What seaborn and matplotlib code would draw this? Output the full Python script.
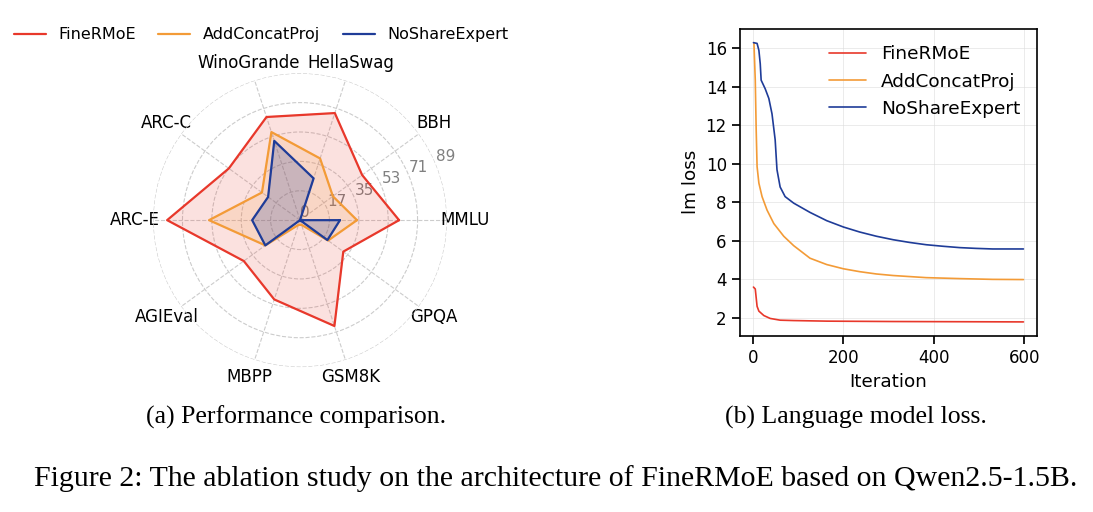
import numpy as np
import pandas as pd
import matplotlib
matplotlib.use("Agg")
import matplotlib.pyplot as plt
import seaborn as sns

# ----------------------------------------
# Data
# ----------------------------------------
categories = ['MMLU', 'BBH', 'HellaSwag', 'WinoGrande', 'ARC-C',
              'ARC-E', 'AGIEval', 'MBPP', 'GSM8K', 'GPQA']
fine_scores = [60.0, 46.5, 68.2, 65.7, 53.3, 80.5, 42.1, 50.5, 67.4, 32.4]
concat_scores = [34.5, 24.6, 39.3, 56.1, 28.5, 55.1, 26.0, 3.0, 3.0, 21.0]
noshare_scores = [24.2, 0.0, 26.6, 50.5, 23.9, 29.0, 26.0, 0.0, 0.0, 20.5]
r_ticks = [0, 17.8, 35.6, 53.4, 71.2, 89]

fine_iter = [1, 5, 9, 13, 24, 38, 60, 90, 163, 310, 598]
fine_loss = [3.6, 3.5, 2.6, 2.35, 2.12, 1.97, 1.88, 1.86, 1.83, 1.81, 1.79]

concat_iter = [2, 5, 7, 9, 13, 20, 31, 46, 68, 90, 126, 163, 200, 236, 273,
               310, 383, 457, 530, 598]
concat_loss = [16.3, 14.35, 11.8, 9.86, 9.0, 8.3, 7.6, 6.9, 6.24, 5.75, 5.1,
               4.77, 4.55, 4.4, 4.28, 4.2, 4.09, 4.04, 4.0, 3.99]

noshare_iter = [1, 9, 13, 16, 18, 27, 35, 42, 49, 53, 60, 71, 90, 126, 163,
                200, 236, 273, 310, 346, 383, 420, 457, 493, 530, 598]
noshare_loss = [16.3, 16.26, 15.9, 15.2, 14.35, 13.9, 13.4, 12.6, 11.25, 9.7,
                8.8, 8.3, 7.96, 7.48, 7.05, 6.72, 6.46, 6.24, 6.06, 5.92, 5.8,
                5.72, 5.65, 5.61, 5.58, 5.58]

names = ['FineRMoE', 'AddConcatProj', 'NoShareExpert']
colors = {'FineRMoE': '#e8382b', 'AddConcatProj': '#f39b37', 'NoShareExpert': '#1f3c98'}

sns.set_theme(style="ticks")
plt.rcParams['font.family'] = ['DejaVu Sans']
plt.rcParams.update({'text.color': 'black', 'axes.labelcolor': 'black',
                     'xtick.color': 'black', 'ytick.color': 'black'})

fig = plt.figure(figsize=(10.93, 5.12), dpi=100)

# ----------------------------------------
# (a) Radar chart
# ----------------------------------------
ax1 = fig.add_axes([0.140, 0.283, 0.269, 0.574], projection='polar')
angles = np.linspace(0, 2 * np.pi, len(categories), endpoint=False)
closed = np.append(angles, angles[0])

score_sets = [fine_scores, concat_scores, noshare_scores]
fill_alpha = [0.15, 0.15, 0.22]
for name, vals, fa in zip(names, score_sets, fill_alpha):
    v = np.append(vals, vals[0])
    ax1.plot(closed, v, color=colors[name], linewidth=1.6, label=name)
    ax1.fill(closed, v, color=colors[name], alpha=fa)

ax1.set_xticks(angles)
ax1.set_xticklabels(categories, fontsize=12)
ax1.set_ylim(0, 89)
ax1.set_yticks(r_ticks)
ax1.set_yticklabels([str(int(t)) for t in r_ticks], fontsize=11, color='gray')
ax1.grid(True, linestyle='--', color='#cccccc', linewidth=0.8)
ax1.spines['polar'].set_visible(False)
ax1.tick_params(axis='x', pad=0)

fig.legend(*ax1.get_legend_handles_labels(), loc='center', ncol=3,
           frameon=False, fontsize=11.5, columnspacing=1.4,
           bbox_to_anchor=(0.239, 0.932))

# ----------------------------------------
# (b) LM loss curves
# ----------------------------------------
ax2 = fig.add_axes([0.677, 0.344, 0.2717, 0.600])
loss_df = pd.concat([
    pd.DataFrame({'Iteration': fine_iter, 'loss': fine_loss, 'model': 'FineRMoE'}),
    pd.DataFrame({'Iteration': concat_iter, 'loss': concat_loss, 'model': 'AddConcatProj'}),
    pd.DataFrame({'Iteration': noshare_iter, 'loss': noshare_loss, 'model': 'NoShareExpert'}),
])
sns.lineplot(data=loss_df, x='Iteration', y='loss', hue='model', hue_order=names,
             palette=colors, linewidth=1.2, ax=ax2)
ax2.set_xlabel('Iteration', fontsize=13.2)
ax2.set_ylabel('lm loss', fontsize=13.2)
ax2.set_xticks([0, 200, 400, 600])
ax2.set_yticks([2, 4, 6, 8, 10, 12, 14, 16])
ax2.tick_params(labelsize=12)
ax2.grid(True, color='#dddddd', linewidth=0.6, alpha=0.7)
for s in ax2.spines.values():
    s.set_color('black')
    s.set_linewidth(1.2)
ax2.legend(loc='upper right', frameon=False, fontsize=13.3)

# ----------------------------------------
# Captions
# ----------------------------------------
serif = ['Liberation Serif', 'DejaVu Serif']
fig.text(0.271, 0.184, '(a) Performance comparison.', ha='center', va='center',
         fontsize=18.5, family=serif)
fig.text(0.783, 0.184, '(b) Language model loss.', ha='center', va='center',
         fontsize=18.5, family=serif)
fig.text(0.508, 0.066,
         'Figure 2: The ablation study on the architecture of FineRMoE based on Qwen2.5-1.5B.',
         ha='center', va='center', fontsize=21.5, family=serif)

fig.savefig('out.png', dpi=100)
